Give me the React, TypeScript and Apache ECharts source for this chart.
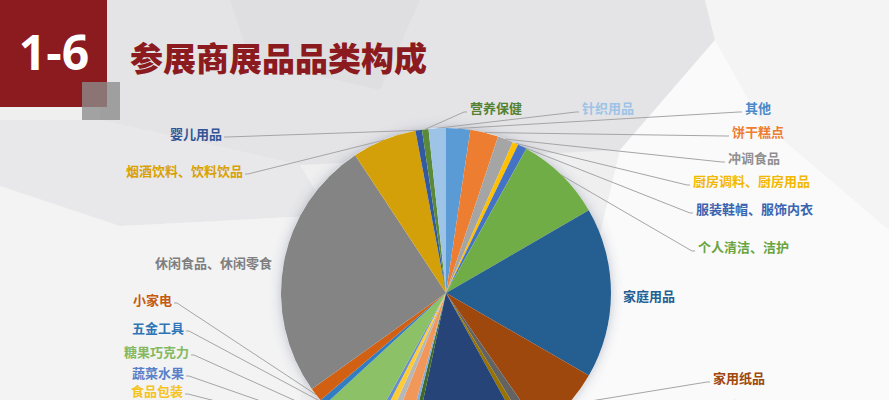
import React, { useEffect, useRef } from "react";
import * as echarts from "echarts";

// ---- data ----
const categories = [
  "其他", "饼干糕点", "冲调食品", "厨房调料、厨房用品", "服装鞋帽、服饰内衣",
  "个人清洁、洁护", "家庭用品", "家用纸品", "居家日用", "日化用品",
  "粮油米面", "乳品", "冷冻食品", "肉禽蛋品", "方便速食",
  "食品包装", "蔬菜水果", "糖果巧克力", "五金工具", "小家电",
  "休闲食品、休闲零食", "烟酒饮料、饮料饮品", "婴儿用品", "营养保健", "针织用品",
];
const shares = [
  2.36, 2.75, 1.53, 0.56, 0.89,
  8.56, 16.69, 7.03, 0.97, 0.64,
  11.36, 0.56, 0.36, 1.81, 0.75,
  0.78, 0.47, 5.08, 0.61, 1.36,
  25.61, 6.31, 0.64, 0.64, 1.69,
];
const sliceColors = [
  "#5B9BD5", "#ED7D31", "#A5A5A5", "#FFC000", "#4472C4",
  "#70AD47", "#255E91", "#9E480E", "#636363", "#997300",
  "#264478", "#43682B", "#7CAFDD", "#F1975A", "#B7B7B7",
  "#FFCD33", "#698ED0", "#8CC168", "#327DC2", "#D26012",
  "#848484", "#D4A00A", "#335AA1", "#5A8A39", "#9DC3E6",
];
const labelColors = [
  "#4A8AC9", "#ED7D31", "#8F8F8F", "#F2B800", "#3A64B0",
  "#6AA43F", "#255E91", "#9E480E", "#636363", "#997300",
  "#264478", "#43682B", "#7CAFDD", "#F1975A", "#B7B7B7",
  "#F5C320", "#5A7FC8", "#86B95E", "#2E75B6", "#C55A11",
  "#7F7F7F", "#D9A100", "#2F5597", "#548235", "#9DC3E6",
];

// ---- label placement (layout only): [x, y, side, showLine] ----
const LABEL_LAYOUT: (null | [number, number, "L" | "R", boolean])[] = [
  [745, 107, "R", true],
  [732, 131, "R", true],
  [728, 157, "R", true],
  [693, 180, "R", true],
  [696, 208, "R", true],
  [698, 246, "R", true],
  [623, 295, "R", false],
  [713, 377, "R", true],
  [715, 405, "R", true],
  null, null, null, null, null, null,
  [183, 390, "L", true],
  [184, 372, "L", true],
  [189, 351, "L", true],
  [184, 327, "L", true],
  [172, 299, "L", true],
  [272, 262, "L", false],
  [243, 170, "L", true],
  [222, 133, "L", true],
  [470, 107, "R", true],
  [582, 107, "R", true],
];

const CENTER = [446, 293];
const RADIUS = 165;
const FONT = '"Noto Sans CJK SC", "Noto Sans", sans-serif';

export default function App() {
  const ref = useRef<HTMLDivElement>(null);
  useEffect(() => {
    document.body.style.margin = "0";
    if (!ref.current) return;
    const chart = echarts.init(ref.current, undefined, { renderer: "svg" });

    const data = categories.map((name, i) => {
      const L = LABEL_LAYOUT[i];
      return {
        name,
        value: shares[i],
        itemStyle: { color: sliceColors[i] },
        label: { show: !!L, color: labelColors[i] },
        labelLine: { show: !!(L && L[3]) },
      };
    });

    const bg = (points: number[][], fill: string) => ({
      type: "polygon",
      z: -10,
      silent: true,
      shape: { points },
      style: { fill },
    });

    chart.setOption({
      animation: false,
      backgroundColor: "#EFEFF0",
      graphic: [
        bg([[100, 0], [705, 0], [715, 40], [620, 150], [300, 165], [100, 120]], "#E4E4E7"),
        bg([[230, 0], [420, 0], [380, 90], [250, 60]], "#DFDFE2"),
        bg([[705, 0], [889, 0], [889, 230], [760, 120], [715, 40]], "#F4F4F5"),
        bg([[620, 150], [715, 40], [760, 120], [889, 230], [889, 400], [560, 400]], "#FAFAFA"),
        bg([[0, 120], [100, 120], [300, 165], [330, 215], [200, 222], [120, 226], [0, 186]], "#E8E8EA"),
        bg([[0, 186], [120, 226], [200, 222], [330, 215], [300, 400], [0, 400]], "#F3F3F4"),
        {
          type: "rect", z: 10, silent: true,
          shape: { x: 0, y: 0, width: 107, height: 107 },
          style: { fill: "#8C1B20" },
        },
        {
          type: "rect", z: 11, silent: true,
          shape: { x: 82, y: 82, width: 38, height: 38 },
          style: { fill: "rgba(140,140,140,0.78)" },
        },
        {
          type: "text", z: 12, silent: true, x: 54, y: 51,
          style: {
            text: "1-6", fill: "#FFFFFF", font: 'bold 48px "Open Sans", sans-serif',
            align: "center", verticalAlign: "middle",
          },
        },
        {
          type: "text", z: 12, silent: true, x: 130, y: 57,
          style: {
            text: "参展商展品品类构成", fill: "#8C1B20",
            font: '900 33px "Noto Sans CJK SC", sans-serif',
            align: "left", verticalAlign: "middle",
          },
        },
      ],
      series: [
        {
          type: "pie",
          silent: true,
          z: 1,
          center: CENTER,
          radius: RADIUS,
          label: { show: false },
          labelLine: { show: false },
          itemStyle: {
            color: "#FFFFFF",
            shadowBlur: 12,
            shadowColor: "rgba(70,90,120,0.35)",
          },
          data: [{ value: 1, name: "" }],
        },
        {
          type: "pie",
          z: 2,
          center: CENTER,
          radius: RADIUS,
          startAngle: 90,
          clockwise: true,
          avoidLabelOverlap: false,
          minShowLabelAngle: 0,
          itemStyle: { borderWidth: 0 },
          label: {
            show: true,
            position: "outside",
            fontFamily: FONT,
            fontSize: 13,
            fontWeight: "bold",
            formatter: "{b}",
          },
          labelLine: {
            show: true,
            length: 10,
            length2: 10,
            lineStyle: { color: "#A5A5A5", width: 1 },
          },
          labelLayout: (p: any) => {
            const L = LABEL_LAYOUT[p.dataIndex];
            if (!L) return {};
            const [x, y, side, line] = L;
            const out: any = {
              x,
              y,
              align: side === "L" ? "right" : "left",
              verticalAlign: "middle",
            };
            if (line && p.labelLinePoints && p.labelLinePoints.length) {
              const s = p.labelLinePoints[0];
              const e = side === "L" ? [x + 2, y + 4] : [x - 3, y + 5];
              const b = side === "L" ? [e[0] + 3, e[1]] : [e[0] - 3, e[1]];
              out.labelLinePoints = [s, b, e];
            }
            return out;
          },
          data,
        },
      ],
    });
    return () => chart.dispose();
  }, []);
  return (
    <div
      ref={ref}
      style={{ position: "absolute", left: 0, top: 0, width: 889, height: 400 }}
    />
  );
}
